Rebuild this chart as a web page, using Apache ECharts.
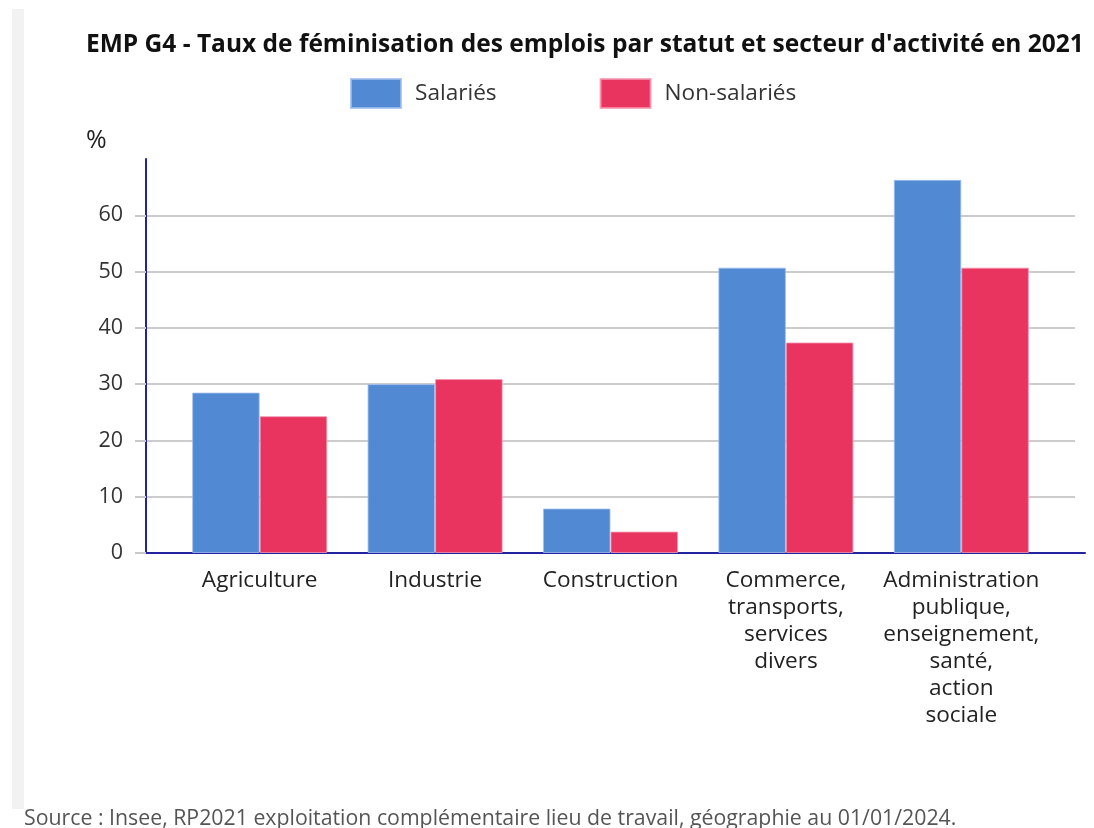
<!DOCTYPE html>
<html>
<head>
<meta charset="utf-8">
<script src="https://cdn.jsdelivr.net/npm/echarts@6/dist/echarts.min.js"></script>
<style>
html,body{margin:0;padding:0;background:#fff;}
#strip{position:absolute;left:12px;top:9px;width:12px;height:800px;background:#f2f2f2;}
#chart{position:absolute;left:0;top:0;width:1094px;height:828px;}
</style>
</head>
<body>
<div id="strip"></div>
<div id="chart"></div>
<script>
const categories = ["Agriculture", "Industrie", "Construction", "Commerce,\ntransports,\nservices\ndivers", "Administration\npublique,\nenseignement,\nsanté,\naction\nsociale"];
const salaries = [28.5, 30.0, 7.9, 50.7, 66.3];
const nonSalaries = [24.3, 30.9, 3.8, 37.4, 50.7];
const seriesNames = ["Salariés", "Non-salariés"];
const yTicks = [0, 10, 20, 30, 40, 50, 60];
const yMax = 70;

const FONT = "Open Sans";
const chart = echarts.init(document.getElementById('chart'), null, {renderer: 'canvas'});
chart.setOption({
  animation: false,
  textStyle: {fontFamily: FONT},
  title: [
    {text: "EMP G4 - Taux de féminisation des emplois par statut et secteur d'activité en 2021",
     left: 81, top: 28, textStyle: {fontFamily: FONT, fontWeight: 'bold', fontSize: 24.5, color: '#111'}},
    {text: "%", left: 81, top: 123, textStyle: {fontFamily: FONT, fontWeight: 'normal', fontSize: 25, color: '#222'}},
    {text: "Source : Insee, RP2021 exploitation complémentaire lieu de travail, géographie au 01/01/2024.",
     left: 19, top: 803, textStyle: {fontFamily: FONT, fontWeight: 'normal', fontSize: 21.3, color: '#555'}}
  ],
  legend: {
    left: 345, top: 73, itemWidth: 50, itemHeight: 29, itemGap: 103, icon: 'rect',
    textStyle: {fontFamily: FONT, fontSize: 22.6, color: '#333', padding: [0, 0, 0, 9]},
    data: seriesNames
  },
  grid: [
    {left: 146, right: 19, top: 159, bottom: 275},
    {left: 172, right: 45, top: 159, bottom: 275},
    {left: 146, right: 9, top: 159, bottom: 275}
  ],
  xAxis: [
    {type: 'value', gridIndex: 0, show: false},
    {type: 'category', gridIndex: 1, data: categories,
     axisLine: {show: false}, axisTick: {show: false},
     axisLabel: {fontFamily: FONT, fontSize: 22.6, color: '#222', lineHeight: 27, margin: 14, interval: 0}},
    {type: 'value', gridIndex: 2, position: 'bottom',
     axisLine: {show: true, lineStyle: {color: '#2323a0', width: 2}},
     axisTick: {show: false}, axisLabel: {show: false}, splitLine: {show: false}}
  ],
  yAxis: [
    {type: 'value', gridIndex: 0, min: yTicks[0], max: yMax, interval: yTicks[1] - yTicks[0],
     axisLine: {show: true, lineStyle: {color: '#2323a0', width: 2}},
     axisTick: {show: true, length: 11, lineStyle: {color: '#c8c8c8', width: 2}},
     axisLabel: {fontFamily: FONT, fontSize: 21.5, color: '#333', margin: 23, showMaxLabel: false,
                 formatter: v => yTicks.indexOf(v) >= 0 ? String(v) : ''},
     splitLine: {show: true, showMinLine: false, showMaxLine: false, lineStyle: {color: '#cccccc', width: 2}}},
    {type: 'value', gridIndex: 1, min: yTicks[0], max: yMax, show: false},
    {type: 'value', gridIndex: 2, min: yTicks[0], max: yMax, show: false}
  ],
  series: [
    {name: seriesNames[0], type: 'bar', xAxisIndex: 1, yAxisIndex: 1, data: salaries,
     barGap: '0%', barCategoryGap: '23%',
     itemStyle: {color: '#5189d3', borderColor: 'rgba(160,190,240,0.8)', borderWidth: 1}},
    {name: seriesNames[1], type: 'bar', xAxisIndex: 1, yAxisIndex: 1, data: nonSalaries,
     barGap: '0%', barCategoryGap: '23%',
     itemStyle: {color: '#e8345f', borderColor: 'rgba(245,150,175,0.8)', borderWidth: 1}}
  ]
});
</script>
</body>
</html>
